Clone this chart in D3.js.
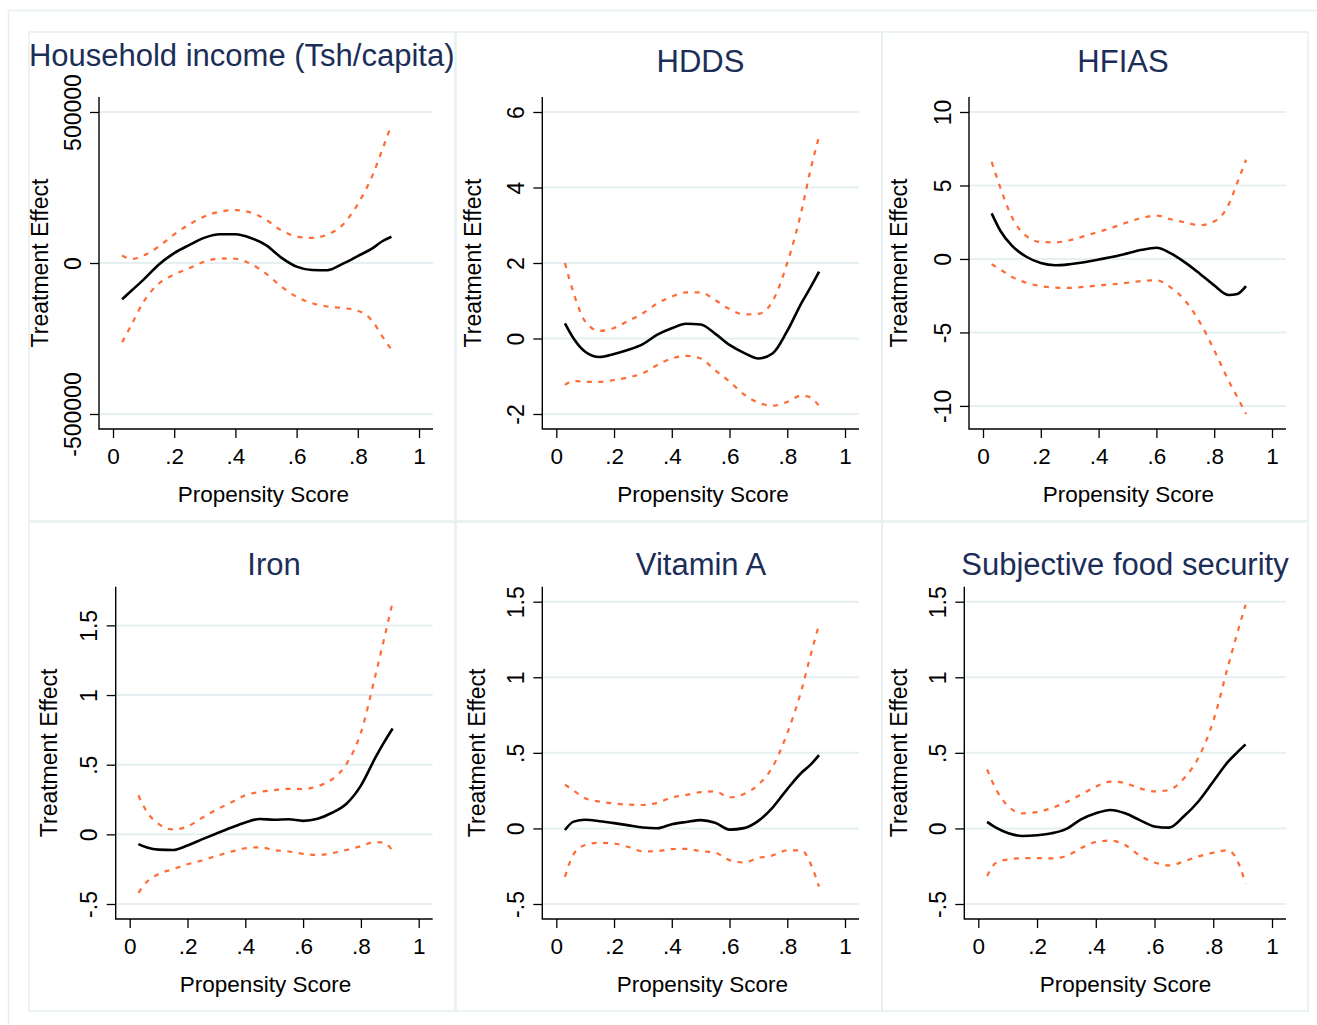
<!DOCTYPE html>
<html>
<head>
<meta charset="utf-8">
<script src="https://cdn.jsdelivr.net/npm/d3@7/dist/d3.min.js"></script>
<style>
  body { margin: 0; background: #fff; }
  text { font-family: "Liberation Sans", Arial, sans-serif; }
</style>
</head>
<body>
<div id="container"></div>
<script>
//Width and height
var w = 1317;
var h = 1025;

//propensity score grid (shared by all panels)
var score = [0.03, 0.06, 0.1, 0.15, 0.2, 0.25, 0.3, 0.35, 0.4, 0.45, 0.5, 0.55, 0.6, 0.65, 0.7, 0.75, 0.8, 0.85, 0.88, 0.91];
var scoreTicks = [0, 0.2, 0.4, 0.6, 0.8, 1];

//household income
var incomeMean = [-120000, -92000, -55000, -5000, 33000, 60000, 84000, 95000, 95000, 83000, 59000, 18000, -12000, -23000, -24000, -3000, 23000, 50000, 72000, 87000];
var incomeUpper = [25000, 13000, 25000, 55000, 95000, 128000, 155000, 170000, 175000, 167000, 143000, 108000, 88000, 83000, 94000, 126000, 195000, 295000, 375000, 458000];
var incomeLower = [-262000, -205000, -128000, -68000, -38000, -17000, 5000, 15000, 14000, -3000, -35000, -78000, -112000, -133000, -144000, -149000, -158000, -195000, -243000, -287000];
var incomeTicks = [-500000, 0, 500000];

//HDDS
var hddsMean = [0.40, 0.0, -0.35, -0.49, -0.41, -0.30, -0.15, 0.10, 0.27, 0.39, 0.37, 0.13, -0.17, -0.38, -0.53, -0.39, 0.20, 0.95, 1.35, 1.77];
var hddsUpper = [2.0, 1.2, 0.45, 0.2, 0.28, 0.47, 0.67, 0.93, 1.11, 1.22, 1.22, 1.02, 0.78, 0.64, 0.65, 1.0, 2.0, 3.4, 4.45, 5.35];
var hddsLower = [-1.23, -1.12, -1.15, -1.15, -1.1, -1.03, -0.92, -0.7, -0.53, -0.46, -0.53, -0.84, -1.14, -1.48, -1.7, -1.78, -1.68, -1.51, -1.56, -1.78];
var hddsTicks = [-2, 0, 2, 4, 6];

//HFIAS
var hfiasMean = [3.1, 1.92, 0.9, 0.15, -0.28, -0.43, -0.36, -0.23, -0.04, 0.15, 0.38, 0.62, 0.76, 0.38, -0.25, -1.0, -1.8, -2.45, -2.38, -1.85];
var hfiasUpper = [6.6, 4.85, 2.85, 1.55, 1.15, 1.13, 1.27, 1.55, 1.85, 2.15, 2.5, 2.8, 2.95, 2.7, 2.48, 2.3, 2.55, 3.7, 5.2, 6.75];
var hfiasLower = [-0.35, -0.72, -1.22, -1.62, -1.85, -1.95, -1.97, -1.9, -1.8, -1.72, -1.62, -1.5, -1.45, -1.95, -2.85, -4.3, -6.2, -8.3, -9.4, -10.55];
var hfiasTicks = [-10, -5, 0, 5, 10];

//iron
var ironMean = [-0.07, -0.095, -0.11, -0.112, -0.08, -0.036, 0.006, 0.047, 0.085, 0.11, 0.105, 0.108, 0.097, 0.112, 0.155, 0.22, 0.35, 0.55, 0.66, 0.76];
var ironUpper = [0.28, 0.16, 0.075, 0.035, 0.057, 0.118, 0.177, 0.228, 0.28, 0.305, 0.317, 0.327, 0.325, 0.345, 0.395, 0.505, 0.73, 1.14, 1.4, 1.67];
var ironLower = [-0.42, -0.34, -0.285, -0.25, -0.215, -0.188, -0.155, -0.125, -0.1, -0.093, -0.113, -0.123, -0.14, -0.148, -0.135, -0.112, -0.085, -0.055, -0.06, -0.12];
var ironTicks = [-0.5, 0, 0.5, 1, 1.5];

//vitamin A
var vitaMean = [-0.01, 0.045, 0.057, 0.048, 0.035, 0.02, 0.006, 0.001, 0.028, 0.043, 0.055, 0.038, -0.008, 0.002, 0.05, 0.14, 0.26, 0.37, 0.42, 0.485];
var vitaUpper = [0.29, 0.25, 0.2, 0.177, 0.165, 0.157, 0.155, 0.17, 0.205, 0.222, 0.24, 0.245, 0.205, 0.228, 0.29, 0.41, 0.63, 0.92, 1.14, 1.35];
var vitaLower = [-0.32, -0.17, -0.11, -0.095, -0.1, -0.123, -0.152, -0.15, -0.137, -0.135, -0.15, -0.16, -0.21, -0.225, -0.195, -0.178, -0.145, -0.145, -0.23, -0.385];
var vitaTicks = [-0.5, 0, 0.5, 1, 1.5];

//subjective food security
var subjMean = [0.043, 0.005, -0.03, -0.05, -0.045, -0.032, -0.003, 0.06, 0.1, 0.122, 0.1, 0.055, 0.013, 0.005, 0.08, 0.18, 0.31, 0.44, 0.5, 0.556];
var subjUpper = [0.39, 0.26, 0.15, 0.1, 0.108, 0.135, 0.175, 0.224, 0.276, 0.31, 0.3, 0.265, 0.245, 0.255, 0.33, 0.47, 0.71, 1.07, 1.28, 1.48];
var subjLower = [-0.315, -0.228, -0.205, -0.197, -0.196, -0.198, -0.182, -0.13, -0.09, -0.08, -0.11, -0.18, -0.225, -0.245, -0.218, -0.185, -0.16, -0.145, -0.205, -0.365];
var subjTicks = [-0.5, 0, 0.5, 1, 1.5];

var titles = ['Household income (Tsh/capita)', 'HDDS', 'HFIAS', 'Iron', 'Vitamin A', 'Subjective food security'];

//panel layout (frame, plot region, label spots)
var panels = [
    {frame: [29, 32, 455, 521], plot: [99, 97, 433, 429], titleX: 241.7, titleY: 65.7, yTitleX: 47.5, xTitleX: 263.3,
     mean: incomeMean, upper: incomeUpper, lower: incomeLower, ticks: incomeTicks},
    {frame: [456, 32, 882, 521], plot: [542.3, 97, 859, 429], titleX: 700.5, titleY: 71.7, yTitleX: 481, xTitleX: 703,
     mean: hddsMean, upper: hddsUpper, lower: hddsLower, ticks: hddsTicks},
    {frame: [882, 32, 1308, 521], plot: [969, 97, 1286, 429], titleX: 1123, titleY: 71.7, yTitleX: 906.7, xTitleX: 1128.3,
     mean: hfiasMean, upper: hfiasUpper, lower: hfiasLower, ticks: hfiasTicks},
    {frame: [29, 522, 455, 1011], plot: [115.7, 586.7, 432.7, 919], titleX: 274, titleY: 575, yTitleX: 56.7, xTitleX: 265.5,
     mean: ironMean, upper: ironUpper, lower: ironLower, ticks: ironTicks},
    {frame: [456, 522, 882, 1011], plot: [542.3, 586.7, 859, 919], titleX: 701, titleY: 575, yTitleX: 485, xTitleX: 702.3,
     mean: vitaMean, upper: vitaUpper, lower: vitaLower, ticks: vitaTicks},
    {frame: [882, 522, 1308, 1011], plot: [964.3, 586.7, 1286, 919], titleX: 1125, titleY: 575, yTitleX: 906.7, xTitleX: 1125.5,
     mean: subjMean, upper: subjUpper, lower: subjLower, ticks: subjTicks}
];

var gridColor = '#e6eff1';
var frameColor = '#e6eff0';

//stata-style tick labels: .2 instead of 0.2
var fmt = function(v) {
    return String(+v.toFixed(6)).replace(/^(-?)0\./, '$1.');
};

//create SVG
var svg = d3.select('#container')
    .append('svg')
    .attr('width', w)
    .attr('height', h)
    .style('background', '#ffffff');

//outer frame
svg.append('rect')
    .attr('x', 8.5)
    .attr('y', 10.5)
    .attr('width', w + 20)
    .attr('height', h + 20)
    .attr('fill', 'none')
    .attr('stroke', frameColor)
    .attr('stroke-width', 1.5);

panels.forEach(function(p, i) {
    var g = svg.append('g');
    var left = p.plot[0], top = p.plot[1], right = p.plot[2], bottom = p.plot[3];

    //panel frame
    g.append('rect')
        .attr('x', p.frame[0])
        .attr('y', p.frame[1])
        .attr('width', p.frame[2] - p.frame[0])
        .attr('height', p.frame[3] - p.frame[1])
        .attr('fill', 'none')
        .attr('stroke', frameColor)
        .attr('stroke-width', 1.5);

    var x = d3.scaleLinear()
        .domain([0, 1])
        .range([left + 14, right - 14]);

    var ext = d3.extent(p.ticks.concat(p.upper, p.lower));
    var y = d3.scaleLinear()
        .domain(ext)
        .range([bottom - 15, top + 15]);

    //gridlines
    g.selectAll('line.grid')
        .data(p.ticks)
        .enter()
        .append('line')
        .attr('class', 'grid')
        .attr('x1', left)
        .attr('x2', right)
        .attr('y1', function(d) { return y(d); })
        .attr('y2', function(d) { return y(d); })
        .attr('stroke', gridColor)
        .attr('stroke-width', 2);

    //y axis
    var yAxis = g.append('g')
        .attr('transform', 'translate(' + left + ',0)')
        .call(d3.axisLeft(y).tickValues(p.ticks).tickSize(9).tickSizeOuter(0).tickFormat(fmt));
    yAxis.select('.domain').remove();
    yAxis.selectAll('.tick line').attr('stroke', '#000').attr('stroke-width', 1.3);
    yAxis.selectAll('.tick text')
        .attr('x', null)
        .attr('dy', null)
        .attr('transform', 'translate(-18.5,0) rotate(-90)')
        .attr('text-anchor', 'middle')
        .attr('fill', '#000')
        .style('font-size', '23px');

    //x axis
    var xAxis = g.append('g')
        .attr('transform', 'translate(0,' + bottom + ')')
        .call(d3.axisBottom(x).tickValues(scoreTicks).tickSize(9).tickSizeOuter(0).tickFormat(fmt));
    xAxis.select('.domain').remove();
    xAxis.selectAll('.tick line').attr('stroke', '#000').attr('stroke-width', 1.3);
    xAxis.selectAll('.tick text')
        .attr('y', 35)
        .attr('dy', null)
        .attr('fill', '#000')
        .style('font-size', '22.5px');

    //axis lines across the whole plot region
    g.append('path')
        .attr('d', 'M' + left + ',' + top + 'V' + bottom + 'H' + right)
        .attr('fill', 'none')
        .attr('stroke', '#000')
        .attr('stroke-width', 1.4);

    //curves
    var line = d3.line()
        .x(function(d, k) { return x(score[k]); })
        .y(function(d) { return y(d); })
        .curve(d3.curveMonotoneX);

    [p.upper, p.lower].forEach(function(ci) {
        g.append('path')
            .datum(ci)
            .attr('fill', 'none')
            .attr('stroke', '#ff6a35')
            .attr('stroke-width', 2.2)
            .attr('stroke-dasharray', '5,6.5')
            .attr('d', line);
    });

    g.append('path')
        .datum(p.mean)
        .attr('fill', 'none')
        .attr('stroke', '#000')
        .attr('stroke-width', 2.6)
        .attr('stroke-linejoin', 'round')
        .attr('d', line);

    //titles
    g.append('text')
        .attr('x', p.titleX)
        .attr('y', p.titleY)
        .attr('text-anchor', 'middle')
        .attr('fill', '#1c2e58')
        .style('font-size', '31px')
        .text(titles[i]);

    g.append('text')
        .attr('x', p.xTitleX)
        .attr('y', bottom + 72.5)
        .attr('text-anchor', 'middle')
        .attr('fill', '#000')
        .style('font-size', '22.5px')
        .text('Propensity Score');

    g.append('text')
        .attr('transform', 'translate(' + p.yTitleX + ',' + (top + bottom) / 2 + ') rotate(-90)')
        .attr('text-anchor', 'middle')
        .attr('fill', '#000')
        .style('font-size', '23px')
        .text('Treatment Effect');
});
</script>
</body>
</html>
